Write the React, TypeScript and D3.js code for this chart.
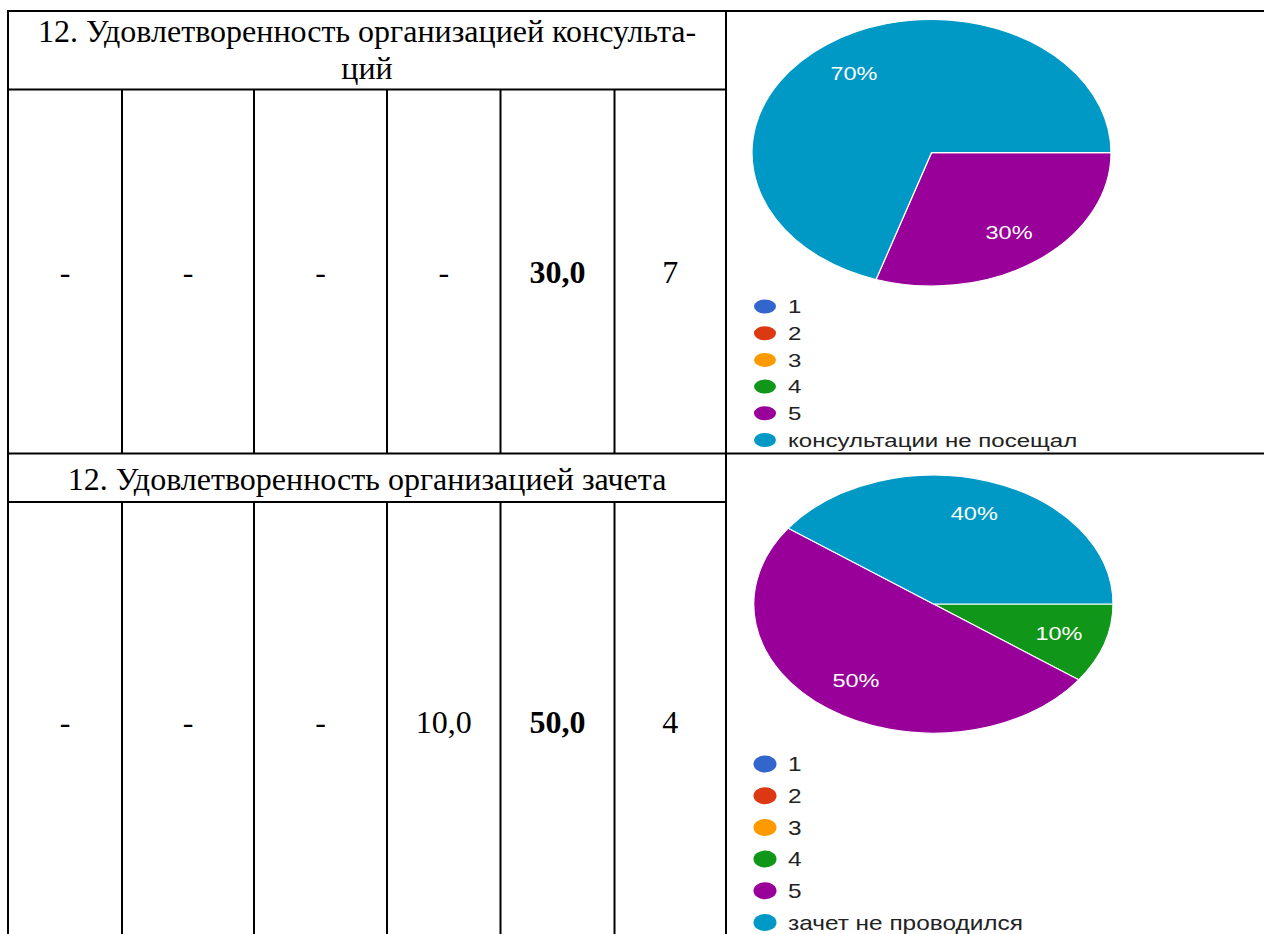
import * as d3 from "d3";

// answer options and Google-like palette
const ratingKeys = ["1", "2", "3", "4", "5"];
const pieColors = ["#3366cc", "#dc3912", "#ff9900", "#109618", "#990099", "#0099c6"];

// block 1: consultations
const consultTitle = ["12. Удовлетворенность организацией консульта-", "ций"];
const consultCells = ["-", "-", "-", "-", "30,0", "7"];
const consultShares = [0, 0, 0, 0, 30, 70];
const consultNone = "консультации не посещал";

// block 2: credit test
const examTitle = ["12. Удовлетворенность организацией зачета"];
const examCells = ["-", "-", "-", "10,0", "50,0", "4"];
const examShares = [0, 0, 0, 10, 50, 40];
const examNone = "зачет не проводился";

const boldColumn = 4;

const W = 1264;
const H = 934;
const colEdges = [8, 122, 254, 387, 500.5, 614.5, 726];
const serif = "'Liberation Serif', 'Times New Roman', serif";
const sans = "'Liberation Sans', Arial, sans-serif";

type PieProps = {
  shares: number[];
  labels: string[];
  cx: number;
  cy: number;
  rx: number;
  ry: number;
  legendTop: number;
  legendStep: number;
  legendFont: number;
  legendSx: number;
  dotRx: number;
  dotRy: number;
};

const PieBlock = ({ shares, labels, cx, cy, rx, ry, legendTop, legendStep, legendFont, legendSx, dotRx, dotRy }: PieProps) => {
  const pie = d3.pie<number>().sort(null).value((d) => d)
    .startAngle(Math.PI / 2).endAngle(Math.PI / 2 + 2 * Math.PI);
  const arcs = pie(shares);
  const arc = d3.arc<d3.PieArcDatum<number>>().innerRadius(0).outerRadius(ry);
  const labelArc = d3.arc<d3.PieArcDatum<number>>().innerRadius(ry * 0.735).outerRadius(ry * 0.735);
  const total = d3.sum(shares);
  const sx = rx / ry;

  return (
    <g>
      <g transform={`translate(${cx},${cy}) scale(${sx},1)`}>
        {arcs.map((a, i) => a.value > 0 ? (
          <path key={i} d={arc(a) || ""} fill={pieColors[i]} stroke="#fff" strokeWidth={1.2} vectorEffect="non-scaling-stroke" />
        ) : null)}
      </g>
      {arcs.map((a, i) => {
        if (a.value <= 0) return null;
        const [lx, ly] = labelArc.centroid(a);
        return (
          <text key={i} transform={`translate(${cx + lx * sx},${cy + ly}) scale(1.27,1)`}
            textAnchor="middle" dy="0.36em" fontSize={18.5} fontFamily={sans} fill="#fff">
            {Math.round((a.value / total) * 100) + "%"}
          </text>
        );
      })}
      {labels.map((lab, i) => {
        const y = legendTop + i * legendStep;
        return (
          <g key={lab}>
            <ellipse cx={765} cy={y} rx={dotRx} ry={dotRy} fill={pieColors[i]} />
            <text transform={`translate(788,${y}) scale(${legendSx},1)`} dy="0.36em"
              fontSize={legendFont} fontFamily={sans} fill="#222">{lab}</text>
          </g>
        );
      })}
    </g>
  );
};

type TableProps = {
  top: number;
  headBottom: number;
  bottom: number;
  title: string[];
  titleBase: number;
  cells: string[];
  cellBase: number;
};

const TableBlock = ({ top, headBottom, bottom, title, titleBase, cells, cellBase }: TableProps) => {
  const midX = (colEdges[0] + colEdges[colEdges.length - 1]) / 2;
  return (
    <g>
      {title.map((t, i) => (
        <text key={i} x={midX} y={titleBase + i * 37} textAnchor="middle" fontSize={32} fontFamily={serif} fill="#000">{t}</text>
      ))}
      <line x1={colEdges[0] - 1} x2={colEdges[6]} y1={headBottom} y2={headBottom} stroke="#000" strokeWidth={2} />
      {colEdges.slice(1, 6).map((x) => (
        <line key={x} x1={x} x2={x} y1={headBottom} y2={bottom} stroke="#000" strokeWidth={2} />
      ))}
      {cells.map((c, i) => (
        <text key={i} x={(colEdges[i] + colEdges[i + 1]) / 2} y={cellBase} textAnchor="middle"
          fontSize={32} fontWeight={i === boldColumn ? "bold" : "normal"} fontFamily={serif} fill="#000">{c}</text>
      ))}
    </g>
  );
};

export default function App() {
  return (
    <svg width={W} height={H} style={{ position: "absolute", left: 0, top: 0, background: "#fff" }}>
      <rect width={W} height={H} fill="#fff" />
      <TableBlock top={11} headBottom={89.5} bottom={453.5} title={consultTitle} titleBase={42}
        cells={consultCells} cellBase={283} />
      <TableBlock top={453.5} headBottom={502} bottom={H} title={examTitle} titleBase={490}
        cells={examCells} cellBase={733} />
      <PieBlock shares={consultShares} labels={[...ratingKeys, consultNone]}
        cx={931.5} cy={152.7} rx={179.5} ry={133.3}
        legendTop={306.5} legendStep={26.7} legendFont={18.5} legendSx={1.3} dotRx={11} dotRy={7} />
      <PieBlock shares={examShares} labels={[...ratingKeys, examNone]}
        cx={933.5} cy={604} rx={179.5} ry={129}
        legendTop={764} legendStep={31.7} legendFont={20} legendSx={1.22} dotRx={11.5} dotRy={8.5} />
      {/* outer grid lines */}
      <line x1={colEdges[0] - 1} x2={W} y1={11} y2={11} stroke="#000" strokeWidth={2} />
      <line x1={colEdges[0] - 1} x2={W} y1={453.5} y2={453.5} stroke="#000" strokeWidth={2} />
      <line x1={colEdges[0]} x2={colEdges[0]} y1={10} y2={H} stroke="#000" strokeWidth={2} />
      <line x1={colEdges[6]} x2={colEdges[6]} y1={10} y2={H} stroke="#000" strokeWidth={2} />
    </svg>
  );
}
